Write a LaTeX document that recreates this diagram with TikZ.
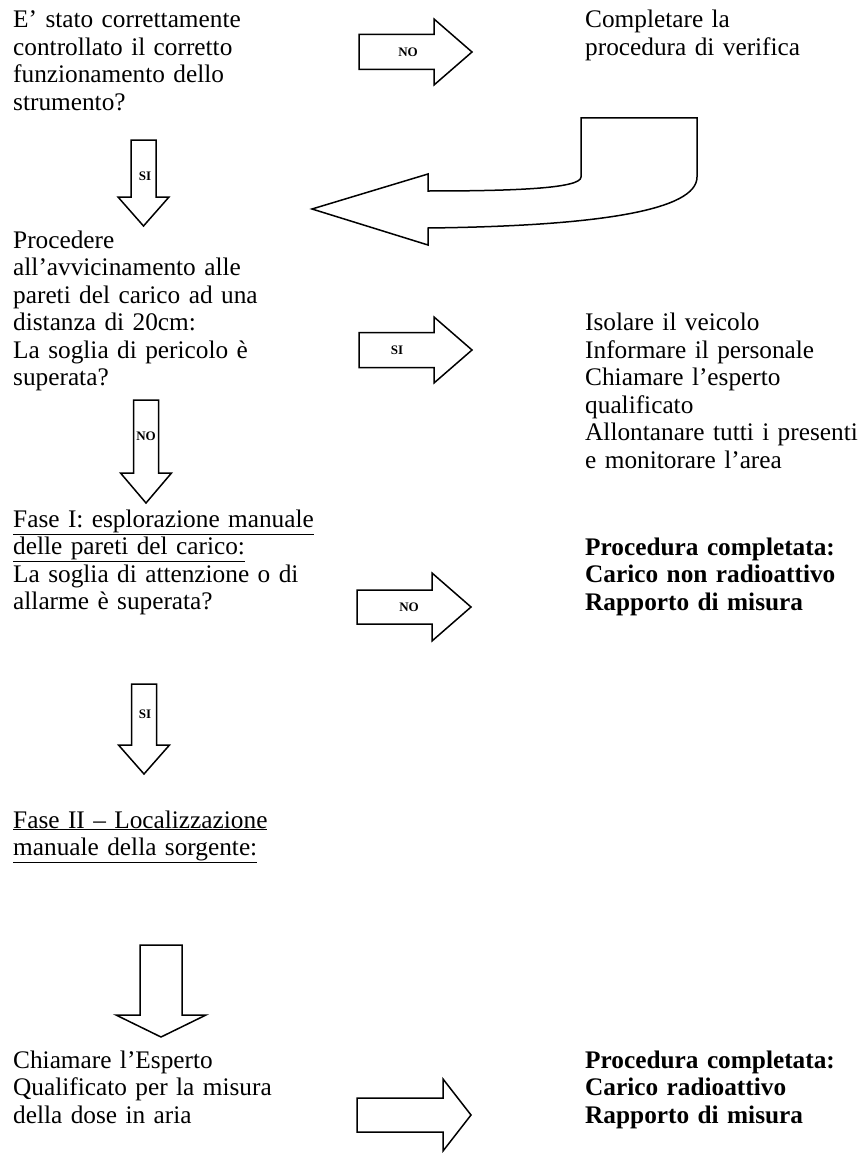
\documentclass[tikz,border=0pt]{standalone}
\usepackage{fontspec}
\setmainfont{Liberation Serif}
\begin{document}
\begin{tikzpicture}[x=1pt,y=-1pt,
  txt/.style={anchor=base west, inner sep=0pt, align=left, text width=#1, font=\fontsize{25.3}{27.5}\selectfont},
  txt/.default=300pt,
  btxt/.style={txt=#1, font=\fontsize{25.3}{27.5}\selectfont\bfseries},
  btxt/.default=280pt,
  shp/.style={draw=black, line width=1.5pt, line join=miter, fill=white},
  lbl/.style={font=\fontsize{13}{13}\selectfont\bfseries, inner sep=0pt}
]
\useasboundingbox (0,0) rectangle (867,1153);

% ---------- texts ----------
\node[txt] (q1) at (13,28) {E’ stato correttamente\\controllato il corretto\\funzionamento dello\\strumento?};
\node[txt=280pt] (r1) at (585,28) {Completare la\\procedura di verifica};
\node[txt] (q2) at (13,248) {Procedere\\all’avvicinamento alle\\pareti del carico ad una\\distanza di 20cm:\\La soglia di pericolo è\\superata?};
\node[txt=280pt] (r2) at (585,330.5) {Isolare il veicolo\\Informare il personale\\Chiamare l’esperto\\qualificato\\Allontanare tutti i presenti\\e monitorare l’area};
\node[txt] (q3) at (13,527) {\underline{Fase I: esplorazione manuale}\\\underline{delle pareti del carico:}\\La soglia di attenzione o di\\allarme è superata?};
\node[btxt] (r3) at (585,555) {Procedura completata:\\Carico non radioattivo\\Rapporto di misura};
\node[txt] (q4) at (13,828) {\underline{Fase II – Localizzazione}\\\underline{manuale della sorgente:}};
\node[txt] (q5) at (13,1068) {Chiamare l’Esperto\\Qualificato per la misura\\della dose in aria};
\node[btxt] (r5) at (585,1068) {Procedura completata:\\Carico radioattivo\\Rapporto di misura};

% ---------- right block arrows ----------
\draw[shp, shift={(359,52)}] (0,-17.5) -- (75,-17.5) -- (75,-33) -- (113,0) -- (75,33) -- (75,17.5) -- (0,17.5) -- cycle;
\node[lbl] (a1) at (408,52) {NO};

\draw[shp, shift={(359,350)}] (0,-17.5) -- (75,-17.5) -- (75,-33) -- (113,0) -- (75,33) -- (75,17.5) -- (0,17.5) -- cycle;
\node[lbl] (a2) at (397,350) {SI};

\draw[shp, shift={(357,607)}] (0,-17) -- (75,-17) -- (75,-34) -- (114,0) -- (75,34) -- (75,17) -- (0,17) -- cycle;
\node[lbl] (a3) at (409,607) {NO};

\draw[shp, shift={(357,1115)}] (0,-17) -- (86,-17) -- (86,-36) -- (114,0) -- (86,36) -- (86,17) -- (0,17) -- cycle;

% ---------- down block arrows ----------
\draw[shp, shift={(143.5,140)}] (-12.5,0) -- (12.5,0) -- (12.5,57) -- (25.5,57) -- (0,86) -- (-25.5,57) -- (-12.5,57) -- cycle;
\node[lbl] (d1) at (145,176) {SI};

\draw[shp, shift={(146,400)}] (-12.5,0) -- (12.5,0) -- (12.5,73) -- (25.5,73) -- (0,103) -- (-25.5,73) -- (-12.5,73) -- cycle;
\node[lbl] (d2) at (146,436) {NO};

\draw[shp, shift={(144,684)}] (-12.5,0) -- (12.5,0) -- (12.5,61) -- (25.5,61) -- (0,90) -- (-25.5,61) -- (-12.5,61) -- cycle;
\node[lbl] (d3) at (145,714) {SI};

\draw[shp, shift={(161,945)}] (-21,0) -- (21,0) -- (21,70) -- (45,70) -- (0,92) -- (-45,70) -- (-21,70) -- cycle;

% ---------- U-turn arrow ----------
\draw[shp] (581,118) -- (697,118) -- (697,177)
  .. controls (697,210) and (600,226) .. (428,228)
  -- (428,245) -- (312,209) -- (428,174) -- (428,191)
  .. controls (520,191) and (581,188) .. (581,177) -- cycle;
\end{tikzpicture}
\end{document}
